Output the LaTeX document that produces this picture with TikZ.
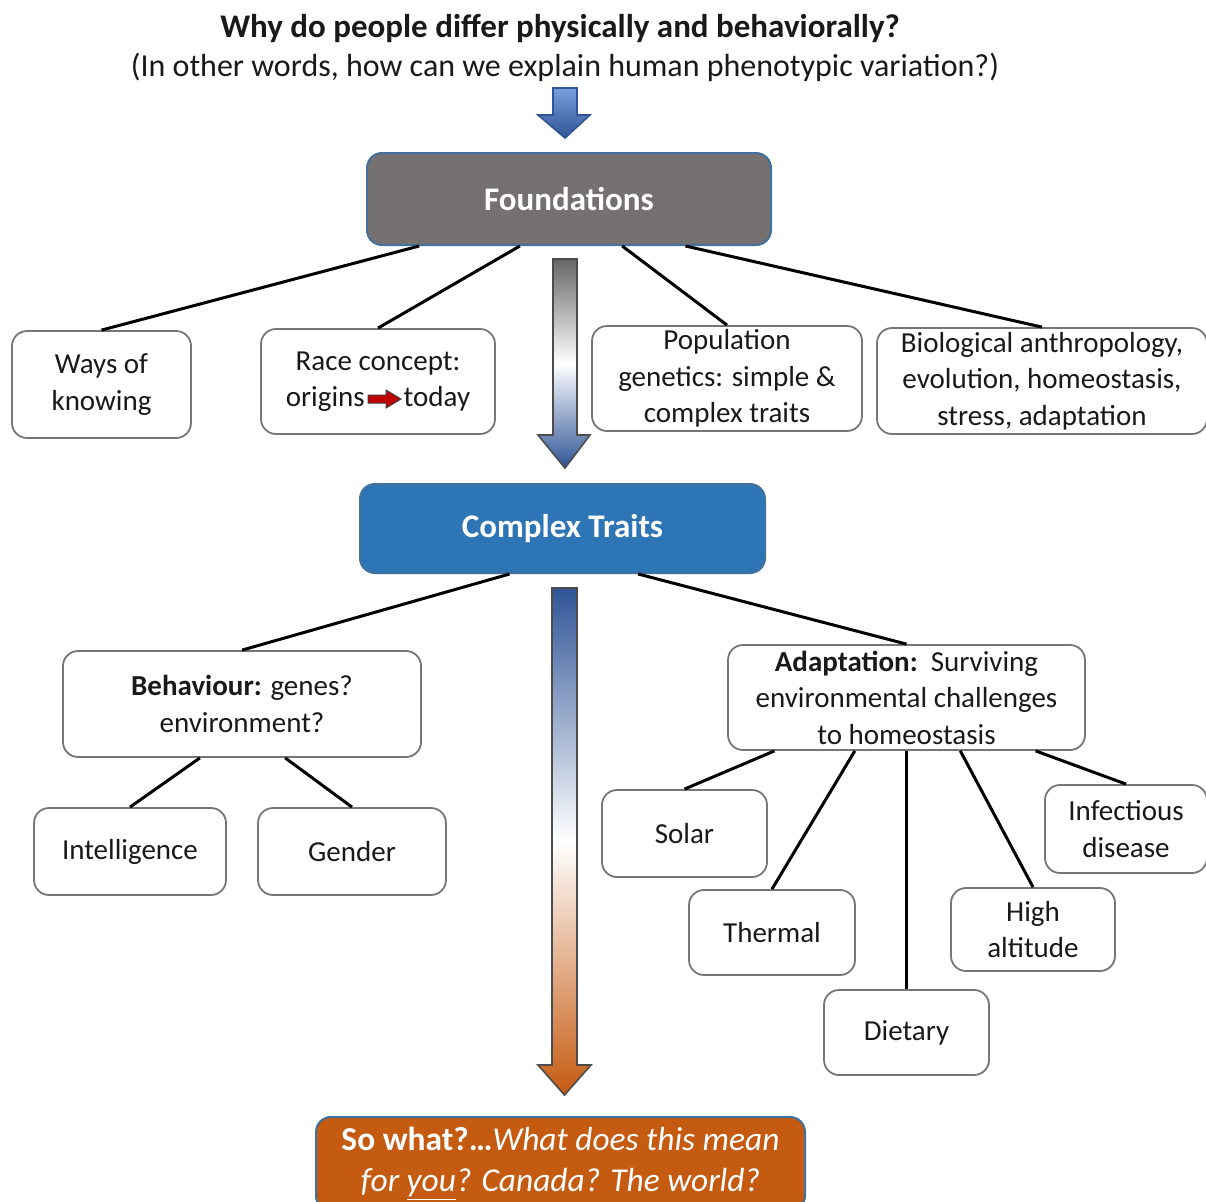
\documentclass[tikz,border=0pt]{standalone}
\usepackage{fontspec}
\setmainfont{Carlito}
\usetikzlibrary{calc}
\definecolor{foundgray}{RGB}{118,113,113}
\definecolor{traitblue}{RGB}{46,117,182}
\definecolor{sowhatorange}{RGB}{197,90,17}
\definecolor{edgeblue}{RGB}{65,113,156}
\definecolor{boxgray}{RGB}{118,118,118}
\definecolor{darkblue}{RGB}{47,85,151}
\definecolor{lightblue}{RGB}{120,158,220}
\definecolor{arrowred}{RGB}{192,0,0}
\begin{document}
\begin{tikzpicture}[x=0.5pt, y=-0.5pt,
	every node/.style={font=\fontsize{14.5}{18.2}\selectfont, text=black!90},
	box/.style={draw=boxgray, line width=0.9pt, rounded corners=7.5pt, fill=white, align=center, inner sep=0pt},
	headbox/.style={draw=edgeblue, line width=1pt, rounded corners=7.5pt, align=center, inner sep=0pt, text=white, font=\fontsize{16.5}{20}\selectfont\bfseries},
	link/.style={line width=1.5pt, black}]
	\useasboundingbox (0,0) rectangle (1206,1201);
	
	\node[font=\fontsize{16.5}{20}\selectfont\bfseries] (title) at (560,28) {Why do people differ physically and behaviorally?};
	\node[font=\fontsize{16}{20}\selectfont] (subtitle) at (565,67) {(In other words, how can we explain human phenotypic variation?)};
	
	\node[headbox, fill=foundgray, minimum width=202pt, minimum height=46pt] (found) at (569,199) {Foundations};
	\node[box, minimum width=89.5pt, minimum height=53.5pt] (ways) at (101.5,384.5) {Ways of\\knowing};
	\node[box, minimum width=117pt, minimum height=52.5pt] (race) at (378,381.5) {Race concept:\\origins\hspace{19.5pt}today};
	\node[box, minimum width=135pt, minimum height=52.5pt] (popgen) at (727,378.5) {Population\\genetics: simple \&\\complex traits};
	\node[box, minimum width=165pt, minimum height=53pt] (bioanth) at (1042,381) {Biological anthropology,\\evolution, homeostasis,\\stress, adaptation};
	
	\node[headbox, fill=traitblue, minimum width=202.5pt, minimum height=44.5pt] (traits) at (562.5,528.5) {Complex Traits};
	\node[box, minimum width=179pt, minimum height=53pt] (behav) at (242,704) {\textbf{Behaviour:} genes?\\environment?};
	\node[box, minimum width=96pt, minimum height=43.5pt] (intel) at (130,851.5) {Intelligence};
	\node[box, minimum width=94pt, minimum height=43.5pt] (gender) at (352,851.5) {Gender};
	
	\node[box, minimum width=178.5pt, minimum height=52.5pt] (adapt) at (906.5,697.5) {\textbf{Adaptation:}\ \ Surviving\\environmental challenges\\to homeostasis};
	\node[box, minimum width=82.5pt, minimum height=43.5pt] (solar) at (684.5,833.5) {Solar};
	\node[box, minimum width=83pt, minimum height=42.5pt] (thermal) at (772,932.5) {Thermal};
	\node[box, minimum width=82.5pt, minimum height=42.5pt] (dietary) at (906.5,1032.5) {Dietary};
	\node[box, minimum width=82pt, minimum height=41.5pt] (highalt) at (1033,929.5) {High\\altitude};
	\node[box, minimum width=81pt, minimum height=44pt] (infect) at (1126,829) {Infectious\\disease};
	
	\node[headbox, fill=sowhatorange, minimum width=244.5pt, minimum height=47pt, font=\fontsize{16.7}{20.5}\selectfont] (sowhat) at (560.5,1164) {\textbf{So what?…}\textit{What does this mean}\\\textit{for \underline{you}? Canada? The world?}};
	
	% red arrow inside the race box
	\draw[fill=arrowred, draw=black!75, line width=0.5pt] (368,395) -- (386,395) -- (386,390) -- (401,399) -- (386,408) -- (386,403) -- (368,403) -- cycle;
	
	% block arrows
	\shade[top color=lightblue, bottom color=darkblue, draw=darkblue, line width=0.8pt] (553,88) -- (577,88) -- (577,115) -- (590,115) -- (565,138) -- (538,115) -- (553,115) -- cycle;
	\shade[top color=black!60, bottom color=darkblue, middle color=white, draw=black!70, line width=0.8pt] (553,259) -- (577,259) -- (577,435) -- (590,435) -- (565,468) -- (538,435) -- (553,435) -- cycle;
	\shade[top color=darkblue, bottom color=sowhatorange, middle color=white, draw=black!70, line width=0.8pt] (552,588) -- (577,588) -- (577,1065) -- (591,1065) -- (564.5,1095) -- (538,1065) -- (552,1065) -- cycle;
	
	% connectors
	\foreach \f/\to in {0.131/ways,0.379/race,0.631/popgen,0.787/bioanth}
	\draw[link] ($(found.south west)!\f!(found.south east)$) -- (\to.north);
	\foreach \f/\to in {0.37/behav,0.686/adapt}
	\draw[link] ($(traits.south west)!\f!(traits.south east)$) -- (\to.north);
	\foreach \f/\to in {0.383/intel,0.62/gender}
	\draw[link] ($(behav.south west)!\f!(behav.south east)$) -- (\to.north);
	\foreach \f/\to in {0.132/solar,0.356/thermal,0.65/highalt,0.86/infect}
	\draw[link] ($(adapt.south west)!\f!(adapt.south east)$) -- (\to.north);
	\draw[link] (dietary.north |- adapt.south) -- (dietary.north);
\end{tikzpicture}
\end{document}
